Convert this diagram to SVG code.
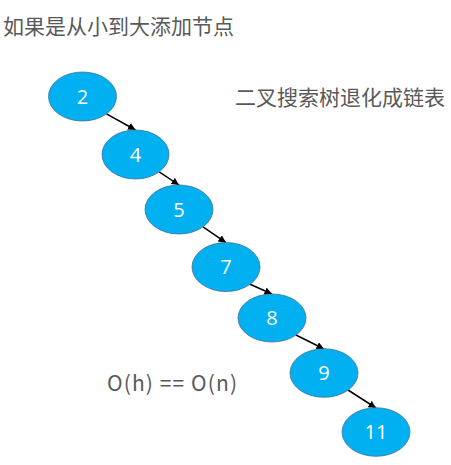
<svg xmlns="http://www.w3.org/2000/svg" width="451" height="465" viewBox="0 0 451 465">
<style>
.node{fill:#00B0F0;stroke:#41719C;stroke-width:0.8}
.lbl{fill:#FFFFFF;font-family:"Open Sans","Noto Sans",sans-serif;font-size:20px;text-anchor:middle}
.txt{fill:#595959;font-family:"Noto Sans CJK SC","Noto Sans",sans-serif;font-size:21px}
.edge{stroke:#000;stroke-width:1.5;fill:none;marker-end:url(#arr)}
</style>
<defs>
<marker id="arr" viewBox="0 0 10 10" refX="10" refY="5" markerWidth="5" markerHeight="5" orient="auto" markerUnits="strokeWidth">
<path d="M0,0 L10,5 L0,10 z" fill="#000"/>
</marker>
</defs>
<rect width="451" height="465" fill="#fff"/>
<text class="txt" x="3" y="34">如果是从小到大添加节点</text>
<text class="txt" x="235" y="105">二叉搜索树退化成链表</text>
<text class="txt" x="107" y="391" font-family="Open Sans,Noto Sans,sans-serif" font-size="21" textLength="130" lengthAdjust="spacing">O(h) == O(n)</text>
<g id="connectors">
<line class="edge" x1="106.5" y1="113.8" x2="135.5" y2="130"/>
<line class="edge" x1="159.2" y1="171.8" x2="179" y2="185"/>
<line class="edge" x1="203" y1="226.8" x2="226" y2="242.7"/>
<line class="edge" x1="250" y1="284.3" x2="272" y2="294"/>
<line class="edge" x1="296" y1="335" x2="324" y2="349"/>
<line class="edge" x1="348" y1="390" x2="376" y2="408"/>
</g>
<g id="n2"><ellipse class="node" cx="82.5" cy="96.5" rx="34" ry="24.5"/><text class="lbl" x="82.5" y="103.5">2</text></g>
<g id="n4"><ellipse class="node" cx="135.5" cy="154.5" rx="33.5" ry="24.5"/><text class="lbl" x="135.5" y="161.5">4</text></g>
<g id="n5"><ellipse class="node" cx="179" cy="209.5" rx="34" ry="24.5"/><text class="lbl" x="179" y="216.5">5</text></g>
<g id="n7"><ellipse class="node" cx="226" cy="267" rx="34" ry="24.5"/><text class="lbl" x="226" y="274">7</text></g>
<g id="n8"><ellipse class="node" cx="272" cy="318" rx="34" ry="24"/><text class="lbl" x="272" y="325">8</text></g>
<g id="n9"><ellipse class="node" cx="324" cy="373" rx="34" ry="24.3"/><text class="lbl" x="324" y="380">9</text></g>
<g id="n11"><ellipse class="node" cx="376" cy="432" rx="34" ry="24.3"/><text class="lbl" x="376" y="439">11</text></g>
</svg>
